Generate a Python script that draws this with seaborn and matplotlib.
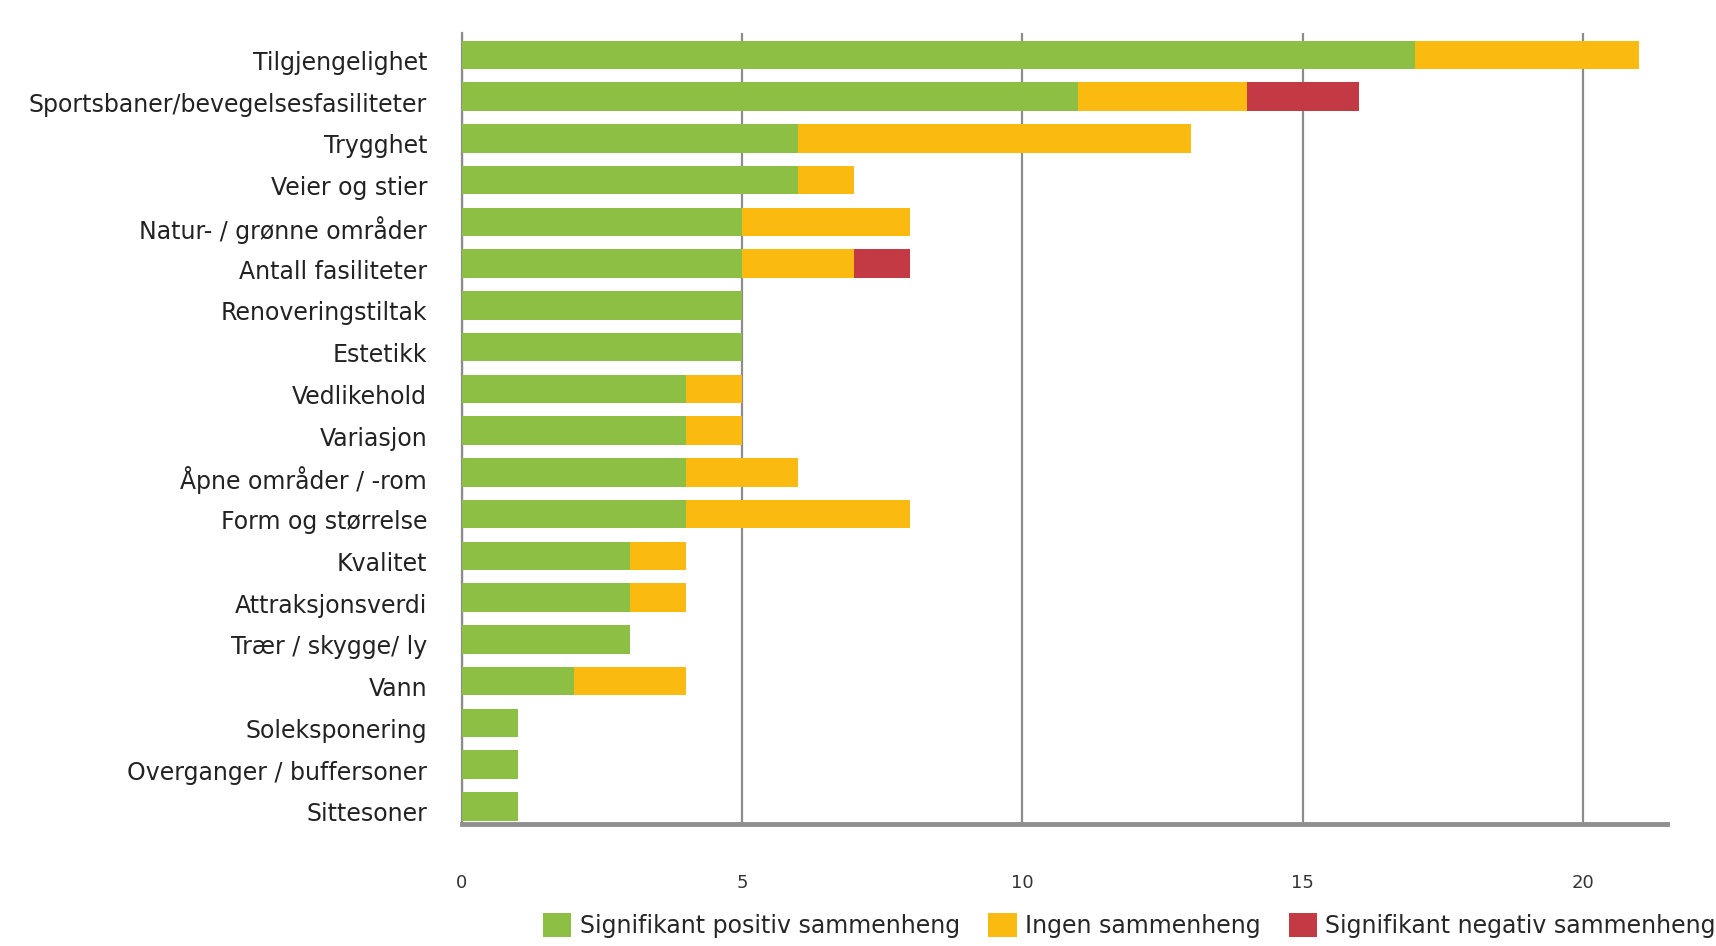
import numpy as np
import pandas as pd
import seaborn as sns
import matplotlib
matplotlib.use('Agg')
import matplotlib.pyplot as plt
from matplotlib.patches import Patch
import matplotlib.transforms as mtransforms

# data
categories = ['Tilgjengelighet', 'Sportsbaner/bevegelsesfasiliteter', 'Trygghet',
              'Veier og stier', 'Natur- / grønne områder', 'Antall fasiliteter',
              'Renoveringstiltak', 'Estetikk', 'Vedlikehold', 'Variasjon',
              'Åpne områder / -rom', 'Form og størrelse', 'Kvalitet',
              'Attraksjonsverdi', 'Trær / skygge/ ly', 'Vann', 'Soleksponering',
              'Overganger / buffersoner', 'Sittesoner']
positiv = [17, 11, 6, 6, 5, 5, 5, 5, 4, 4, 4, 4, 3, 3, 3, 2, 1, 1, 1]
ingen = [4, 3, 7, 1, 3, 2, 0, 0, 1, 1, 2, 4, 1, 1, 0, 2, 0, 0, 0]
negativ = [0, 2, 0, 0, 0, 1, 0, 0, 0, 0, 0, 0, 0, 0, 0, 0, 0, 0, 0]
series_names = ['Signifikant positiv sammenheng', 'Ingen sammenheng',
                'Signifikant negativ sammenheng']
colors = ['#8DBF44', '#FBBA0F', '#C33A45']

df = pd.DataFrame({'kategori': categories, 'pos': positiv,
                   'ingen': ingen, 'neg': negativ})
df['cum_ingen'] = df['pos'] + df['ingen']
df['cum_neg'] = df['cum_ingen'] + df['neg']

sns.set_style('white')
plt.rcParams['font.family'] = ['DejaVu Sans']

fig = plt.figure(figsize=(17.16, 9.46), dpi=100)
ax = fig.add_axes([0.2692, 0.129, 0.7022, 0.836])

# stacked bars drawn back to front
for col, c in zip(['cum_neg', 'cum_ingen', 'pos'], colors[::-1]):
    sns.barplot(data=df, x=col, y='kategori', orient='h', color=c,
                width=0.68, linewidth=0, saturation=1, ax=ax, zorder=3)

ax.set_xlim(0, 21.5)
ax.set_ylim(18.42, -0.52)
ax.set_xticks([0, 5, 10, 15, 20])
ax.set_xticklabels(['0', '5', '10', '15', '20'], fontsize=13, color='#333333')
ax.tick_params(axis='x', length=0, pad=36)
ax.tick_params(axis='y', length=0, pad=25, labelsize=17, labelcolor='#222222')
# labels sit a touch below the bar centre in the original
offset = mtransforms.ScaledTranslation(0, -4 / 72, fig.dpi_scale_trans)
for lbl in ax.get_yticklabels():
    lbl.set_transform(lbl.get_transform() + offset)
ax.set_xlabel('')
ax.set_ylabel('')

ax.xaxis.grid(True, color='#8c8c8c', linewidth=1.6, zorder=0)
ax.set_axisbelow(True)
for s in ['top', 'right']:
    ax.spines[s].set_visible(False)
ax.spines['left'].set_color('#8c8c8c')
ax.spines['left'].set_linewidth(1.6)
ax.spines['bottom'].set_color('#8f8f8f')
ax.spines['bottom'].set_linewidth(3.5)

handles = [Patch(facecolor=c, edgecolor='none') for c in colors]
fig.legend(handles, series_names, loc='center left',
           bbox_to_anchor=(0.311, 0.022), ncol=3, frameon=False,
           fontsize=17, handlelength=1.2, handleheight=1.2,
           handletextpad=0.35, columnspacing=1.2, borderaxespad=0)

fig.savefig('out.png', dpi=100)
